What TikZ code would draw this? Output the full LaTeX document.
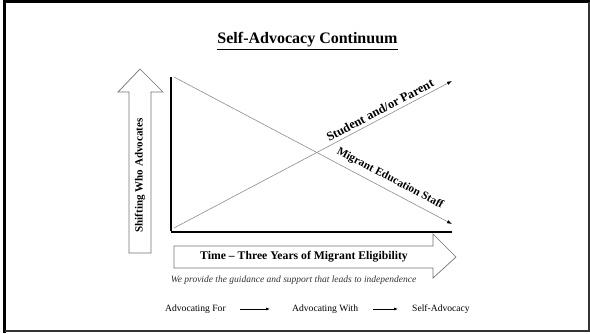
\documentclass[tikz,border=0pt]{standalone}
\usepackage{fontspec}
\setmainfont{Liberation Serif}
\usetikzlibrary{arrows.meta}
\begin{document}
\begin{tikzpicture}[x=1pt,y=-1pt,
  blockarrow/.style={draw=black!55,line width=0.7pt,fill=white},
  trend/.style={draw=black!45,line width=0.6pt,-{Latex[length=5pt,width=3.5pt,black]}},
  axis/.style={draw=black,line width=2pt},
  steplabel/.style={font=\fontsize{9.6}{11}\selectfont,inner sep=0pt},
  steparrow/.style={draw=black,line width=0.6pt,-{Latex[length=4pt,width=3pt]}}]
\useasboundingbox (0,0) rectangle (590,333);
% frame
\draw[black,line width=3pt] (4.5,333) -- (4.5,1.5) -- (590,1.5);
\draw[black!80,line width=1.5pt] (4.5,331) -- (589,331) -- (589,1.5);
% title
\node[font=\bfseries\fontsize{16}{18}\selectfont,inner sep=0pt] (title) at (307.5,41) {\underline{Self-Advocacy Continuum}};
% vertical block arrow
\draw[blockarrow] (129,253) -- (129,92) -- (118,92) -- (140,69) -- (163,92) -- (151,92) -- (151,253) -- cycle;
\node[rotate=90,font=\bfseries\fontsize{11}{13}\selectfont,inner sep=0pt] (who) at (140,175.5) {Shifting Who Advocates};
% axes
\coordinate (origin) at (171,232);
\coordinate (ytop) at (171,77);
\coordinate (xend) at (452,232);
\draw[axis,line width=1.5pt] (ytop) -- ([yshift=1pt]origin);
\draw[axis] (origin) -- (xend);
% trend lines
\coordinate (staffstart) at (174,77);
\coordinate (staffend) at (452,224);
\coordinate (parentstart) at (174,228);
\coordinate (parentend) at (452,81);
\draw[trend] (staffstart) -- (staffend);
\draw[trend] (parentstart) -- (parentend);
\node[rotate=27.8,font=\bfseries\fontsize{12.5}{14}\selectfont,inner sep=0pt] (parent) at (380,110) {Student and/or Parent};
\node[rotate=-27.8,font=\bfseries\fontsize{11.3}{13}\selectfont,inner sep=0pt] (staff) at (390,178.5) {Migrant Education Staff};
% horizontal block arrow
\draw[blockarrow] (174,246) -- (433,246) -- (433,234) -- (456,257) -- (433,278) -- (433,268) -- (174,268) -- cycle;
\node[font=\bfseries\fontsize{11.7}{13}\selectfont,inner sep=0pt] (time) at (304,256.5) {Time -- Three Years of Migrant Eligibility};
\node[font=\itshape\fontsize{9.5}{11}\selectfont,inner sep=0pt,text=black!80] (motto) at (293.5,280) {We provide the guidance and support that leads to independence};
% progression
\node[steplabel,anchor=west] (for) at (165,309) {Advocating For};
\node[steplabel,anchor=west] (with) at (292,309) {Advocating With};
\node[steplabel,anchor=west] (self) at (412,309) {Self-Advocacy};
\draw[steparrow] ([xshift=14pt]for.east) -- ([xshift=-22pt]with.west);
\draw[steparrow] ([xshift=15pt]with.east) -- ([xshift=-14pt]self.west);
\end{tikzpicture}
\end{document}
